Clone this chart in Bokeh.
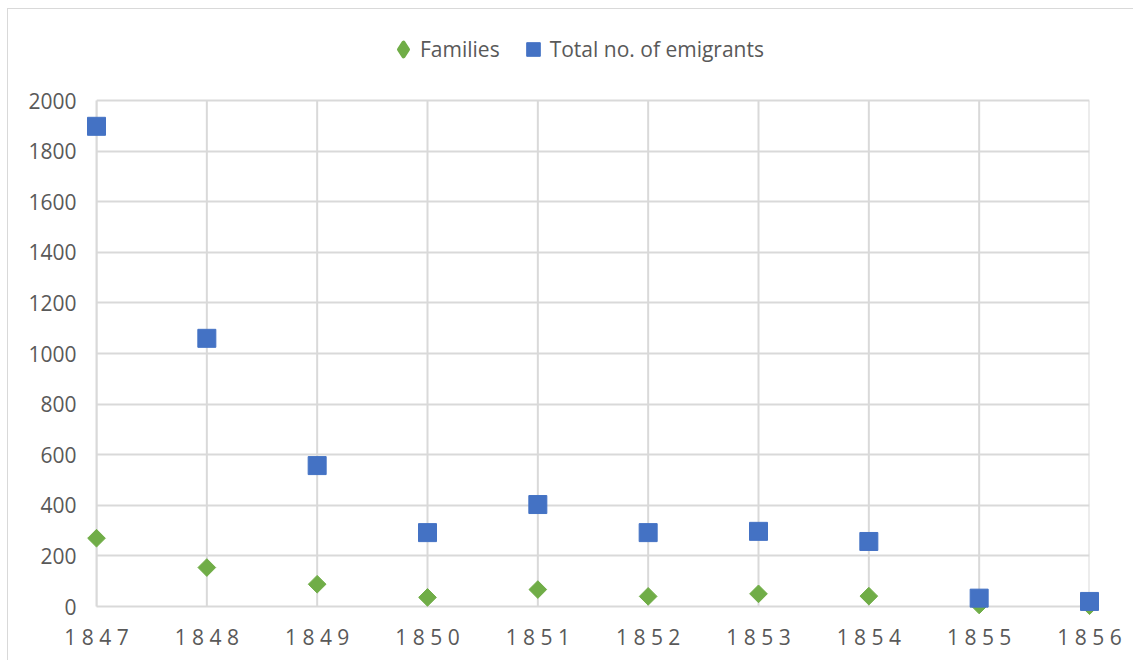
import math
from bokeh.plotting import figure
from bokeh.models import FixedTicker, ColumnDataSource, Legend, LegendItem
from bokeh.embed import file_html
from bokeh.resources import INLINE

years = [1847, 1848, 1849, 1850, 1851, 1852, 1853, 1854, 1855, 1856]
families = [270, 154, 88, 36, 67, 40, 50, 41, 6, 3]
total_emigrants = [1898, 1060, 557, 292, 403, 292, 297, 257, 33, 20]
y_ticks = [0, 200, 400, 600, 800, 1000, 1200, 1400, 1600, 1800, 2000]
x_tick_labels = {y: " ".join(str(y)) for y in years}

GRID = "#d9d9d9"
TEXT = "#595959"
FONT = "Open Sans"
GREEN = "#70ad47"
BLUE = "#4472c4"

# layout (pixels): plot area spans 506 px for 0..2000; extra room above it holds the legend
Y_MAX = y_ticks[-1]
AXIS_PX = 506
EXTRA_PX = 70
y_top = Y_MAX * (AXIS_PX + EXTRA_PX) / AXIS_PX

p = figure(width=1126, height=652, output_backend="svg", toolbar_location=None,
           x_range=(years[0], years[-1]), y_range=(0, y_top),
           min_border_left=88, min_border_right=45, min_border_top=91 - EXTRA_PX,
           min_border_bottom=55)
p.styles = {"margin-left": "7px", "margin-top": "8px",
            "border-left": "1px solid #d9d9d9", "border-top": "1px solid #d9d9d9"}
p.outline_line_color = None
p.background_fill_color = "white"
p.border_fill_color = "white"

p.xaxis.ticker = FixedTicker(ticks=years)
p.xaxis.major_label_overrides = x_tick_labels
p.yaxis.ticker = FixedTicker(ticks=y_ticks)
p.yaxis.bounds = (0, Y_MAX)
for ax in (p.xaxis, p.yaxis):
    ax.axis_line_color = GRID
    ax.axis_line_width = 2
    ax.major_tick_line_color = None
    ax.minor_tick_line_color = None
    ax.major_label_text_color = TEXT
    ax.major_label_text_font = FONT
    ax.major_label_text_font_size = "21px"
p.xaxis.major_label_standoff = 10
p.yaxis.major_label_standoff = 14
p.xgrid.grid_line_color = None
p.ygrid.ticker = FixedTicker(ticks=y_ticks)
p.ygrid.grid_line_color = GRID
p.ygrid.grid_line_width = 2

# vertical grid lines limited to the value axis extent
p.segment(x0=years, y0=[0] * len(years), x1=years, y1=[Y_MAX] * len(years),
          line_color=GRID, line_width=2, level="underlay")

src = ColumnDataSource(dict(x=years, fam=families, tot=total_emigrants))
r_fam = p.scatter("x", "fam", source=src, marker="square", size=12.5, angle=math.pi / 4,
                  fill_color=GREEN, line_color=GREEN, level="overlay")
r_tot = p.scatter("x", "tot", source=src, marker="square", size=18,
                  fill_color=BLUE, line_color=BLUE, level="overlay")
# legend-only glyph for the diamond shape (a NaN point is never drawn in the plot)
r_fam_leg = p.scatter(x=[years[0]], y=[float("nan")], marker="diamond", size=14,
                      fill_color=GREEN, line_color=GREEN, line_width=4, line_join="round")

legend = Legend(items=[LegendItem(label="Families", renderers=[r_fam_leg]),
                       LegendItem(label="Total no. of emigrants", renderers=[r_tot])],
                orientation="horizontal", location=(290, 537),
                label_text_font=FONT, label_text_font_size="21px", label_text_color=TEXT,
                glyph_width=34, glyph_height=40, label_standoff=0, spacing=16,
                border_line_color=None, background_fill_alpha=0, margin=0, padding=0)
p.add_layout(legend, "center")

open("out.html", "w").write(file_html(p, INLINE))
